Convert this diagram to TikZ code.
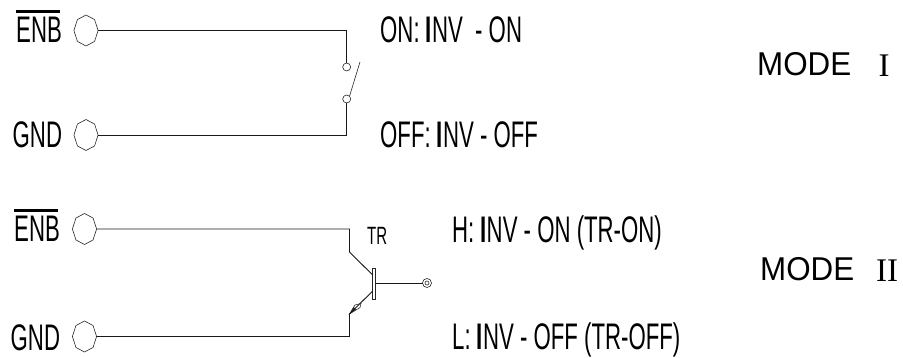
\documentclass[tikz,border=0pt]{standalone}
\usepackage{fontspec}
\setmainfont{Liberation Sans}
\newfontfamily\condfont[FakeStretch=0.60]{Liberation Sans}
\newfontfamily\modefont[FakeStretch=0.95]{Liberation Sans}
\newfontfamily\romanfont{Liberation Serif}
\usetikzlibrary{shapes.geometric}
\tikzset{
  wire/.style={line width=0.9pt,black!90},
  thin part/.style={draw,line width=0.6pt,black!85},
  terminal/.style={regular polygon,regular polygon sides=8,shape border rotate=22.5,draw,line width=0.6pt,black!85,
    minimum size=31pt,inner sep=0pt,outer sep=0pt,xscale=0.78},
  contact/.style={circle,thin part,minimum size=8pt,inner sep=0pt,outer sep=0pt},
  label/.style={anchor=base west,inner sep=0pt,font=\condfont\fontsize{37}{37}\selectfont},
  mode/.style={anchor=base west,inner sep=0pt,font=\modefont\fontsize{33}{33}\selectfont},
  numeral/.style={anchor=base,inner sep=0pt,font=\romanfont\fontsize{33}{33}\selectfont},
}
\newcommand{\enbtext}{\leavevmode\rlap{\rule[29.5pt]{44pt}{3pt}}ENB}
\newcommand{\thickI}{{\bfseries I}}
\begin{document}
\begin{tikzpicture}[x=1pt,y=-1pt]
\useasboundingbox (0,0) rectangle (903,358);
% Mode I
\node[label] (enb1) at (16,43) {\enbtext};
\node[label] (gnd1) at (12.5,148) {GND};
\node[terminal] (t1) at (86,30.5) {};
\node[terminal] (t2) at (86,135) {};
\node[contact] (c1) at (346.7,67) {};
\node[contact] (c2) at (346.7,99) {};
\coordinate (armtop) at (360,62);
\draw[wire] (t1.east) -- (346.7,30.5) -- (c1.north);
\draw[wire] (t2.east) -- (346.7,135) -- (c2.south);
\draw[thin part] (c2.north east) -- (armtop);
\node[label] (on) at (380,43) {ON: \thickI NV\ \ - ON};
\node[label] (off) at (380,148) {OFF: \thickI NV - OFF};
\node[mode] (m1) at (757,76) {MODE};
\node[numeral] (n1) at (884,77) {I};
% Mode II
\node[label] (enb2) at (14,242) {\enbtext};
\node[label] (gnd2) at (10.5,350) {GND};
\node[terminal] (t3) at (84.5,229) {};
\node[terminal] (t4) at (84.5,336.5) {};
\node[draw,line width=0.6pt,black!85,minimum width=3pt,minimum height=31pt,inner sep=0pt,outer sep=0pt] (bar) at (374.2,283.5) {};
\node[circle,draw,line width=0.6pt,black!85,minimum size=9pt,inner sep=0pt,outer sep=0pt] (base) at (427,283) {};
\node[circle,draw,line width=0.6pt,black!85,minimum size=4pt,inner sep=0pt] (basein) at (base) {};
\coordinate (kc) at (349.5,252);
\coordinate (ke) at (349.5,314);
\draw[wire] (t3.east) -- (349.5,229) -- (kc) -- (372.7,275);
\draw[wire] (bar.east |- base) -- (base.west);
\draw[thin part,fill=white] (ke) -- (355,305) -- (361,303.5) -- (360,307.5) -- cycle;
\fill[black!85] (ke) -- (353.5,307) -- (356,309.5) -- cycle;
\draw[wire] (t4.east) -- (349.5,336.5) -- (ke) -- (372.7,291);
\node[anchor=base west,inner sep=0pt,font=\condfont\fontsize{25}{25}\selectfont] (tr) at (367,245) {TR};
\node[label] (h) at (452,243) {H: \thickI NV - ON (TR-ON)};
\node[label] (l) at (452,349) {L: \thickI NV - OFF (TR-OFF)};
\node[mode] (m2) at (760,281) {MODE};
\node[numeral] (n2) at (887,282) {II};
\end{tikzpicture}
\end{document}
